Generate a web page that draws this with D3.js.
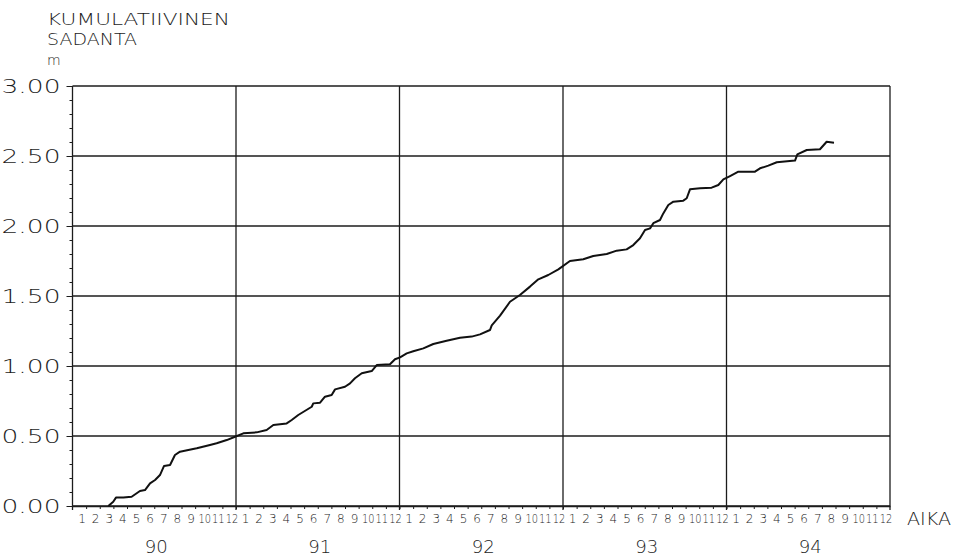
<!DOCTYPE html>
<html><head><meta charset="utf-8">
<script src="https://cdn.jsdelivr.net/npm/d3@7"></script>
<style>
body{margin:0;background:#fff}
svg{display:block}
text{font-family:"DejaVu Sans",sans-serif;font-weight:200;fill:#1c1c1c}
</style>
</head><body>
<svg id="chart" width="960" height="559"></svg>
<script>
// Axis labels
const yearLabels = ["90", "91", "92", "93", "94"];
const monthLabels = ["1","2","3","4","5","6","7","8","9","10","11","12"];
const yTickValues = [0, 0.5, 1, 1.5, 2, 2.5, 3];

// Cumulative precipitation (m); time in months since 1 Jan 1990
const monthIdx = [2.63, 2.99, 3.19, 3.73, 4.34, 4.95, 5.32, 5.69, 6.06, 6.42, 6.72, 7.16, 7.52, 7.89, 8.50, 9.12,
  10.09, 10.58, 11.32, 11.93, 12.54, 13.52, 14.25, 14.74, 15.72, 16.09, 16.57, 17.56, 17.67, 18.17, 18.53, 19.02,
  19.27, 20.00, 20.37, 20.73, 21.23, 21.96, 22.33, 23.30, 23.67, 24.04, 24.53, 25.01, 25.75, 26.48, 27.46, 28.44,
  29.30, 29.91, 30.64, 30.77, 31.38, 32.11, 32.84, 33.58, 34.19, 34.92, 35.66, 36.51, 37.49, 38.22, 39.21, 39.94,
  40.67, 41.16, 41.65, 42.02, 42.39, 42.63, 43.12, 43.36, 43.73, 44.10, 44.83, 45.08, 45.32, 46.06, 46.91, 47.40,
  47.77, 48.26, 48.87, 50.09, 50.46, 51.07, 51.69, 53.03, 53.20, 53.89, 54.86, 55.35, 55.89];
const cumPrecip = [0.000, 0.030, 0.060, 0.060, 0.066, 0.107, 0.114, 0.162, 0.186, 0.221, 0.286, 0.293, 0.364, 0.388, 0.400, 0.412,
  0.436, 0.448, 0.471, 0.495, 0.519, 0.526, 0.543, 0.579, 0.590, 0.614, 0.650, 0.709, 0.733, 0.738, 0.781, 0.793,
  0.833, 0.852, 0.876, 0.912, 0.948, 0.964, 1.007, 1.012, 1.048, 1.062, 1.090, 1.105, 1.126, 1.157, 1.181, 1.202,
  1.210, 1.226, 1.257, 1.290, 1.360, 1.459, 1.507, 1.567, 1.619, 1.650, 1.690, 1.750, 1.762, 1.786, 1.800, 1.824,
  1.833, 1.864, 1.912, 1.971, 1.983, 2.020, 2.043, 2.090, 2.150, 2.174, 2.181, 2.198, 2.262, 2.269, 2.274, 2.293,
  2.333, 2.357, 2.388, 2.388, 2.412, 2.431, 2.455, 2.467, 2.512, 2.543, 2.548, 2.602, 2.595];

const svg = d3.select("#chart");
const x = d3.scaleLinear().domain([0, 60]).range([72.5, 890]);
const y = d3.scaleLinear().domain([0, 3]).range([506, 86]);
const ink = "#1c1c1c";

// Grid: horizontal lines every 0.5 m, vertical lines at year boundaries
svg.append("g").selectAll("line").data(yTickValues).join("line")
  .attr("x1", x(0)).attr("x2", x(60))
  .attr("y1", d => y(d)).attr("y2", d => y(d))
  .attr("stroke", ink).attr("stroke-width", 1.3);
svg.append("g").selectAll("line").data(d3.range(0, 61, 12)).join("line")
  .attr("x1", d => x(d)).attr("x2", d => x(d))
  .attr("y1", y(3)).attr("y2", y(0) + 4)
  .attr("stroke", ink).attr("stroke-width", 1.3);

// Left axis: minor ticks every 0.1, longer ticks with labels every 0.5
const minorY = d3.range(0, 3.001, 0.1);
svg.append("g").attr("transform", `translate(${x(0)},0)`)
  .call(d3.axisLeft(y).tickValues(minorY).tickSize(3).tickFormat("").tickSizeOuter(0))
  .call(g => g.select(".domain").remove())
  .call(g => g.selectAll("line").attr("stroke", ink));
svg.append("g").attr("transform", `translate(${x(0)},0)`)
  .call(d3.axisLeft(y).tickValues(yTickValues).tickSize(6).tickPadding(6).tickFormat(d3.format(".2f")).tickSizeOuter(0))
  .call(g => g.select(".domain").remove())
  .call(g => g.selectAll("line").attr("stroke", ink))
  .call(g => g.selectAll("text")
    .attr("font-family", "DejaVu Sans, sans-serif").attr("font-weight", 200).attr("font-size", 19)
    .attr("fill", ink).attr("textLength", 59).attr("lengthAdjust", "spacingAndGlyphs"));

// Bottom axis: month ticks and labels, year labels
const monthTicks = d3.range(1, 60);
svg.append("g").attr("transform", `translate(0,${y(0)})`)
  .call(d3.axisBottom(x).tickValues(monthTicks).tickSize(3).tickFormat("").tickSizeOuter(0))
  .call(g => g.select(".domain").attr("stroke", ink).attr("stroke-width", 1.3))
  .call(g => g.selectAll("line").attr("stroke", ink));

const monthCells = [];
yearLabels.forEach((yr, k) => monthLabels.forEach((m, i) => monthCells.push({ t: k * 12 + i + 1, m })));
svg.append("g").selectAll("text").data(monthCells).join("text")
  .attr("x", d => x(d.t - 0.3)).attr("y", 523)
  .attr("text-anchor", "middle").attr("font-size", 12)
  .attr("textLength", d => d.m.length > 1 ? 12.5 : null)
  .attr("lengthAdjust", "spacingAndGlyphs")
  .text(d => d.m);

svg.append("g").selectAll("text").data(yearLabels).join("text")
  .attr("x", (d, k) => x(k * 12 + 6) + 2).attr("y", 553)
  .attr("text-anchor", "middle").attr("font-size", 18)
  .attr("textLength", 23).attr("lengthAdjust", "spacingAndGlyphs")
  .text(d => d);

svg.append("text").attr("x", 907).attr("y", 525).attr("font-size", 17)
  .attr("textLength", 44).attr("lengthAdjust", "spacingAndGlyphs").text("AIKA");

// Y-axis title
svg.append("text").attr("x", 47).attr("y", 25).attr("font-size", 16)
  .attr("textLength", 183).attr("lengthAdjust", "spacingAndGlyphs").text("KUMULATIIVINEN");
svg.append("text").attr("x", 47).attr("y", 45).attr("font-size", 16)
  .attr("textLength", 90).attr("lengthAdjust", "spacingAndGlyphs").text("SADANTA");
svg.append("text").attr("x", 47).attr("y", 65).attr("font-size", 14).text("m");

// Cumulative precipitation curve
const pts = monthIdx.map((t, i) => [t, cumPrecip[i]]);
svg.append("path").datum(pts)
  .attr("fill", "none").attr("stroke", "#111").attr("stroke-width", 2)
  .attr("stroke-linejoin", "round")
  .attr("d", d3.line().x(d => x(d[0])).y(d => y(d[1])));
</script>
</body></html>
